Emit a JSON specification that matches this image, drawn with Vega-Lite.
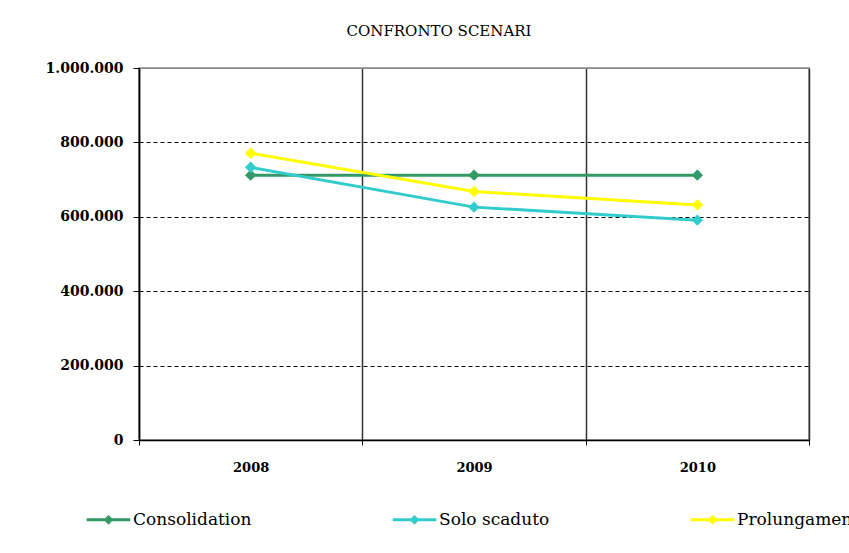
{
  "$schema": "https://vega.github.io/schema/vega-lite/v6.json",
  "width": 670,
  "height": 372,
  "autosize": {"type": "none"},
  "padding": {"left": 139, "top": 68, "right": 40, "bottom": 113},
  "background": "white",
  "config": {
    "locale": {"number": {"decimal": ",", "thousands": ".", "grouping": [3], "currency": ["€", ""]}},
    "view": {"stroke": "#888888", "strokeWidth": 1.5},
    "font": "DejaVu Serif"
  },
  "title": {"text": "CONFRONTO SCENARI", "font": "DejaVu Serif", "fontSize": 15, "fontWeight": "normal", "color": "black", "offset": 22, "dx": -35},
  "data": {
    "values": [
      {"series": "Consolidation", "year": "2008", "value": 712000},
      {"series": "Consolidation", "year": "2009", "value": 712000},
      {"series": "Consolidation", "year": "2010", "value": 712000},
      {"series": "Solo scaduto", "year": "2008", "value": 733000},
      {"series": "Solo scaduto", "year": "2009", "value": 626000},
      {"series": "Solo scaduto", "year": "2010", "value": 591000},
      {"series": "Prolungamento", "year": "2008", "value": 771000},
      {"series": "Prolungamento", "year": "2009", "value": 668000},
      {"series": "Prolungamento", "year": "2010", "value": 632000}
    ]
  },
  "encoding": {
    "x": {
      "field": "year", "type": "ordinal",
      "scale": {"paddingInner": 0, "paddingOuter": 0},
      "axis": {
        "title": null, "labelAngle": 0, "tickBand": "extent",
        "grid": true, "gridColor": "#333333", "gridWidth": 1.5,
        "domainColor": "black", "domainWidth": 1.5,
        "tickColor": "black", "tickSize": 5,
        "labelPadding": 16, "labelFont": "DejaVu Serif", "labelFontWeight": "bold",
        "labelFontSize": 13, "labelColor": "black"
      }
    },
    "y": {
      "field": "value", "type": "quantitative",
      "scale": {"domain": [0, 1000000], "nice": false},
      "axis": {
        "title": null,
        "values": [0, 200000, 400000, 600000, 800000, 1000000],
        "format": ",d",
        "grid": true,
        "gridColor": {"condition": {"test": "datum.value === 1000000", "value": "#888888"}, "value": "black"},
        "gridDash": {"condition": {"test": "datum.value === 1000000 || datum.value === 0", "value": []}, "value": [4, 3]},
        "gridWidth": 1.2,
        "domainColor": "black", "domainWidth": 1.5,
        "tickColor": "black", "tickSize": 6,
        "labelPadding": 10, "labelFont": "DejaVu Serif", "labelFontWeight": "bold",
        "labelFontSize": 14, "labelColor": "black"
      }
    },
    "color": {
      "field": "series", "type": "nominal",
      "scale": {"domain": ["Consolidation", "Solo scaduto", "Prolungamento"], "range": ["#339966", "#33CCCC", "#FFFF00"]},
      "legend": {
        "title": null, "orient": "none", "legendX": -54, "legendY": 428,
        "direction": "horizontal", "columnPadding": 134,
        "symbolType": "M-1,0H1M0,-0.13L0.13,0L0,0.13L-0.13,0Z", "symbolSize": 1900, "symbolStrokeWidth": 3,
        "labelFont": "DejaVu Serif", "labelFontSize": 17, "labelColor": "black",
        "labelOffset": 1, "labelLimit": 300
      }
    }
  },
  "layer": [
    {"mark": {"type": "line", "strokeWidth": 3}},
    {"mark": {"type": "point", "shape": "diamond", "filled": true, "size": 130, "opacity": 1}}
  ]
}
